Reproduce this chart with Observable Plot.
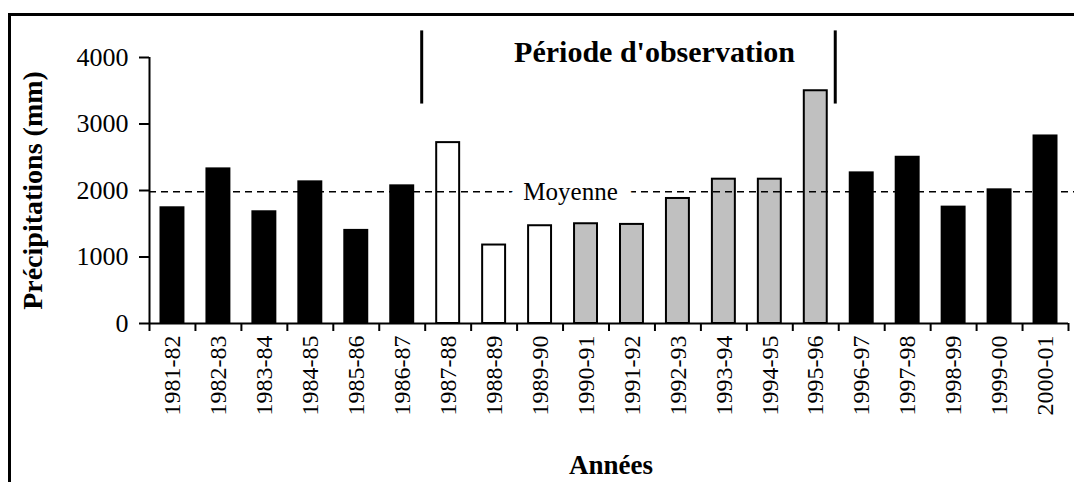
<!DOCTYPE html>
<html><head><meta charset="utf-8">
<script src="https://cdn.jsdelivr.net/npm/d3@7"></script>
<script src="https://cdn.jsdelivr.net/npm/@observablehq/plot@0.6"></script>
<style>
html,body{margin:0;padding:0;background:#fff;}
#wrap{position:relative;width:1074px;height:482px;overflow:hidden;}
#frame{position:absolute;left:8px;top:13px;width:1100px;height:500px;border-left:3px solid #000;border-top:3px solid #000;pointer-events:none;}
#chart{position:absolute;left:0;top:0;}
#chart svg, #chart svg text{font-family:"Liberation Serif","Times New Roman",serif !important;}
</style></head><body>
<div id="wrap"><div id="chart"></div><div id="frame"></div></div>
<script>
const years = ["1981-82","1982-83","1983-84","1984-85","1985-86","1986-87","1987-88","1988-89","1989-90","1990-91",
               "1991-92","1992-93","1993-94","1994-95","1995-96","1996-97","1997-98","1998-99","1999-00","2000-01"];
const precipitation = [1740,2325,1680,2130,1400,2070,2720,1180,1470,1500,
                       1490,1880,2170,2170,3500,2265,2500,1750,2010,2820];
const groups = ["hors","hors","hors","hors","hors","hors","pre","pre","pre","obs",
                "obs","obs","obs","obs","obs","hors","hors","hors","hors","hors"];
const groupNames = ["hors","pre","obs"];
const groupColors = ["#000000","#ffffff","#c0c0c0"];
const meanPrecip = 1980;
const meanLabel = "Moyenne";
const yTicks = [0,1000,2000,3000,4000];
const periodBounds = ["1987-88","1996-97"];
const periodTitle = "Période d'observation";
const yLabel = "Précipitations (mm)";
const xLabel = "Années";

const W = 1074, H = 482, ML = 149, MR = 6, MT = 57, MB = 159;
const band = (W - ML - MR) / years.length;
const data = years.map((y, i) => ({year: y, value: precipitation[i], group: groups[i]}));

const plot = Plot.plot({
  width: W, height: H,
  marginLeft: ML, marginRight: MR, marginTop: MT, marginBottom: MB,
  style: {fontFamily: "'Liberation Serif', 'Times New Roman', serif", color: "#000", background: "transparent", overflow: "visible"},
  x: {type: "band", domain: years, padding: 0, round: false},
  y: {domain: [0, 4000]},
  color: {domain: groupNames, range: groupColors},
  marks: [
    Plot.barY(data, {x: "year", y: "value", fill: "group", stroke: "#000", strokeWidth: 2, insetLeft: 11.5, insetRight: 11.5}),
    Plot.ruleY([meanPrecip], {stroke: "#000", strokeWidth: 1.5, strokeDasharray: "7,5", insetRight: -6}),
    Plot.text([meanLabel], {x: () => years[9], y: () => meanPrecip, dx: -15.5, fontSize: 25, fill: "#000",
      stroke: "#fff", strokeWidth: 28, paintOrder: "stroke", strokeLinejoin: "round"}),
    Plot.axisY({ticks: yTicks, tickSize: 10, tickPadding: 11, fontSize: 26, strokeWidth: 2, tickFormat: d => String(d), label: null}),
    Plot.axisX({tickSize: 0, tickRotate: -90, tickPadding: 12, fontSize: 24, label: null}),
    Plot.ruleY([0], {strokeWidth: 2}),
    Plot.ruleX([years[0]], {x: d => d, dx: -band / 2, y1: 0, y2: 4000, strokeWidth: 2}),
    Plot.ruleX(years, {x: d => d, dx: -band / 2, y1: 0, y2: 0, insetBottom: -8, strokeWidth: 2}),
    Plot.ruleX([years[years.length - 1]], {x: d => d, dx: band / 2, y1: 0, y2: 0, insetBottom: -8, strokeWidth: 2}),
    Plot.ruleX(periodBounds, {x: d => d, dx: -band / 2 - 3.5, y1: 4400, y2: 3300, strokeWidth: 3}),
    Plot.text([periodTitle], {frameAnchor: "top", lineAnchor: "middle", textAnchor: "middle", dx: 45.5, dy: -5, fontSize: 30, fontWeight: "bold"}),
    Plot.text([yLabel], {frameAnchor: "left", lineAnchor: "middle", textAnchor: "middle", dx: -116, rotate: -90, fontSize: 28, fontWeight: "bold"}),
    Plot.text([xLabel], {frameAnchor: "bottom", lineAnchor: "middle", textAnchor: "middle", dx: 2, dy: 141.7, fontSize: 27, fontWeight: "bold"})
  ]
});
document.getElementById("chart").appendChild(plot);
</script>
</body></html>
